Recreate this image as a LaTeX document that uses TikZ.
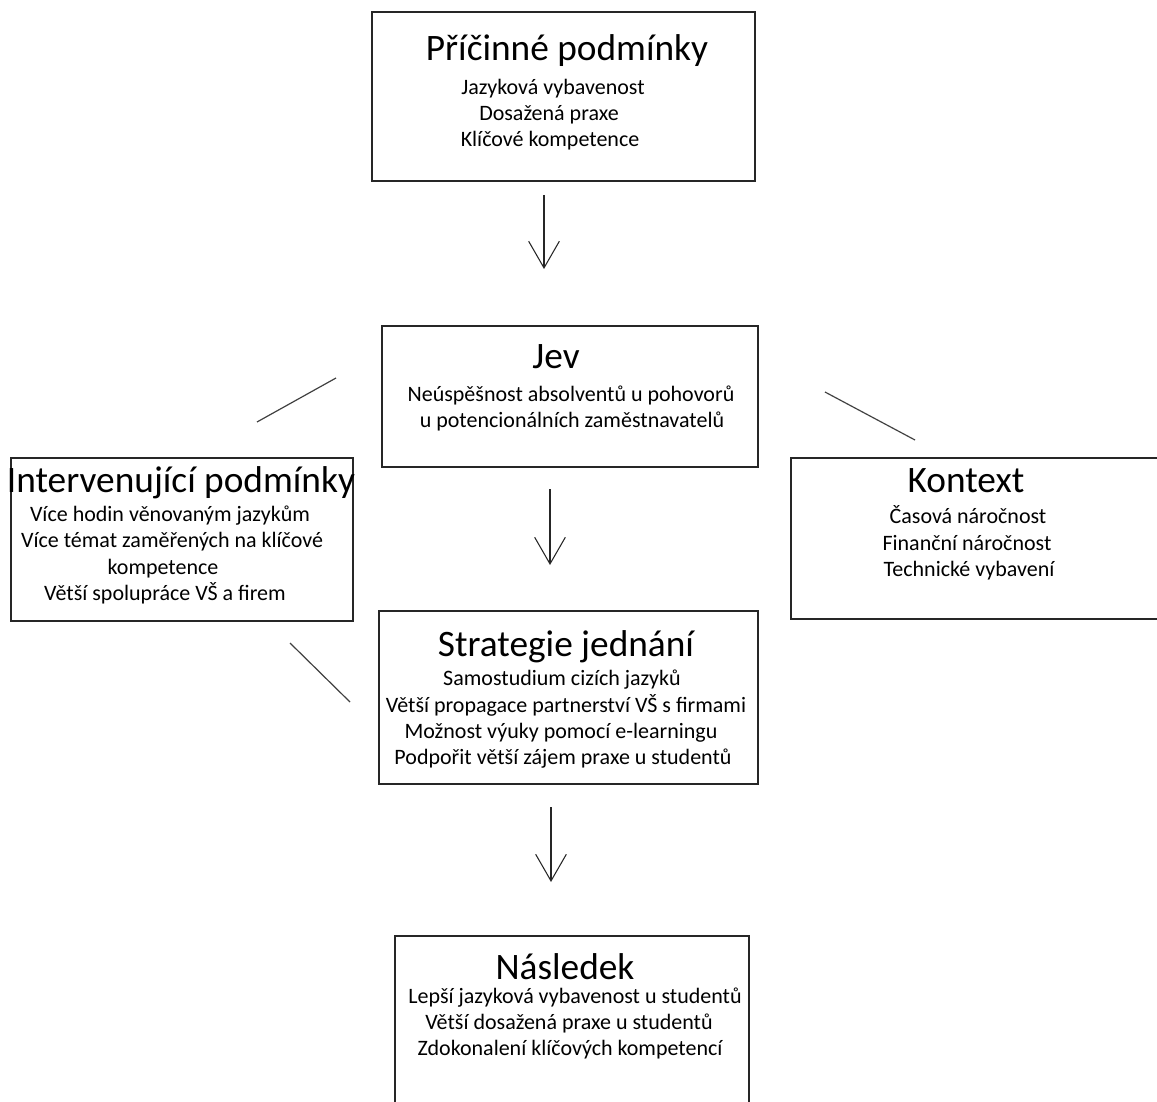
\documentclass[tikz,border=0pt]{standalone}
\usepackage{fontspec}
\setmainfont{Carlito}
\usetikzlibrary{arrows.meta}
\tikzset{
  box/.style={draw=black!85, line width=0.9pt, inner sep=0pt, outer sep=0pt, rectangle},
  ttl/.style={anchor=base, inner sep=0pt, font=\fontsize{28}{34}\selectfont},
  txt/.style={anchor=base, inner sep=0pt, font=\fontsize{16.5}{20}\selectfont},
  arr/.style={line width=0.8pt, draw=black!85, -{Straight Barb[length=20pt, width=23pt, line width=0.8pt]}},
  deco/.style={line width=0.9pt, draw=black!75}
}
\begin{document}
\begin{tikzpicture}[x=0.75pt, y=-0.75pt]
\useasboundingbox (0,0) rectangle (1157,1102);
\begin{scope}
\clip (0,0) rectangle (1157,1102);
% boxes
\node[box, minimum width=287.25pt, minimum height=126.75pt] (pb) at (563.5,96.5) {};
\node[box, minimum width=282pt, minimum height=105.75pt] (jev) at (570,396.5) {};
\node[box, minimum width=256.5pt, minimum height=122.25pt] (ip) at (182,539.5) {};
\node[box, minimum width=284.25pt, minimum height=120.75pt] (kx) at (980.5,538.5) {};
\node[box, minimum width=284.25pt, minimum height=129.75pt] (sj) at (568.5,697.5) {};
\node[box, minimum width=265.5pt, minimum height=134.25pt] (ns) at (572,1025.5) {};
\end{scope}

% Příčinné podmínky
\node[ttl] (pbt) at (567,61) {Příčinné podmínky};
\node[txt] (pb1) at (553,95) {Jazyková vybavenost};
\node[txt] (pb2) at (549,121) {Dosažená praxe};
\node[txt] (pb3) at (550,147) {Klíčové kompetence};

% Jev
\node[ttl] (jevt) at (556,368) {Jev};
\node[txt] (jev1) at (571,401) {Neúspěšnost absolventů u pohovorů};
\node[txt] (jev2) at (572,427) {u potencionálních zaměstnavatelů};

% Intervenující podmínky
\node[ttl] (ipt) at (181,492) {Intervenující podmínky};
\node[txt] (ip1) at (170,521) {Více hodin věnovaným jazykům};
\node[txt] (ip2) at (172,547) {Více témat zaměřených na klíčové};
\node[txt] (ip3) at (163,574) {kompetence};
\node[txt] (ip4) at (165,600) {Větší spolupráce VŠ a firem};

% Kontext
\node[ttl] (kxt) at (966,492) {Kontext};
\node[txt] (kx1) at (968,523) {Časová náročnost};
\node[txt] (kx2) at (967,550) {Finanční náročnost};
\node[txt] (kx3) at (969,576) {Technické vybavení};

% Strategie jednání
\node[ttl] (sjt) at (566,656) {Strategie jednání};
\node[txt] (sj1) at (562,685) {Samostudium cizích jazyků};
\node[txt] (sj2) at (566,712) {Větší propagace partnerství VŠ s firmami};
\node[txt] (sj3) at (561,738) {Možnost výuky pomocí e-learningu};
\node[txt] (sj4) at (563,764) {Podpořit větší zájem praxe u studentů};

% Následek
\node[ttl] (nst) at (565,979) {Následek};
\node[txt] (ns1) at (575,1003) {Lepší jazyková vybavenost u studentů};
\node[txt] (ns2) at (569,1029) {Větší dosažená praxe u studentů};
\node[txt] (ns3) at (570,1055) {Zdokonalení klíčových kompetencí};

% arrows
\coordinate (a1s) at (544,195); \coordinate (a1e) at (544,269);
\coordinate (a2s) at (550,489); \coordinate (a2e) at (550,565);
\coordinate (a3s) at (551,807); \coordinate (a3e) at (551,882);
\draw[arr] (a1s) -- (a1e);
\draw[arr] (a2s) -- (a2e);
\draw[arr] (a3s) -- (a3e);

% decorative lines
\coordinate (l1s) at (257,422); \coordinate (l1e) at (336,378);
\coordinate (l2s) at (825,392); \coordinate (l2e) at (915,440);
\coordinate (l3s) at (290,643); \coordinate (l3e) at (350,702);
\draw[deco] (l1s) -- (l1e);
\draw[deco] (l2s) -- (l2e);
\draw[deco] (l3s) -- (l3e);
\end{tikzpicture}
\end{document}
